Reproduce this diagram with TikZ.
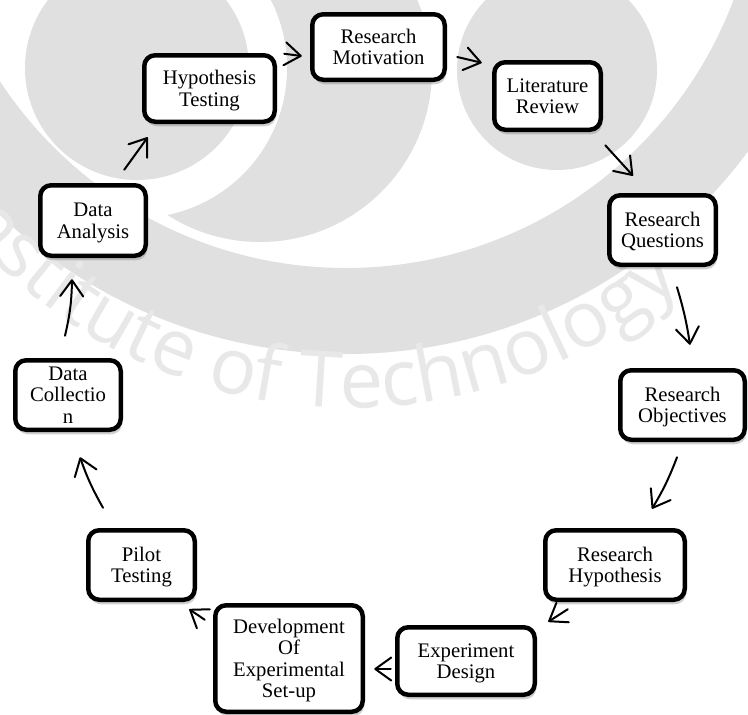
\documentclass[tikz,border=0pt]{standalone}
\usepackage{fontspec}
\setmainfont{Liberation Serif}
\newfontfamily\wmfamily{Open Sans}
\newcommand\wmfont{\wmfamily\fontsize{78}{78}\selectfont}
\usetikzlibrary{arrows.meta,shadows,decorations.text}
\colorlet{wm}{black!12}
\colorlet{wmtext}{black!9}

\begin{document}
\begin{tikzpicture}[x=1pt,y=-1pt,
  stage/.style={draw=black, line width=4.5pt, rounded corners=11pt, fill=white,
    align=center, inner sep=0pt, text depth=0pt,
    font=\fontsize{20.7}{21.5}\selectfont,
    drop shadow={shadow xshift=1.5pt, shadow yshift=-4.5pt, fill=black!60, opacity=0.3}},
  flow/.style={line width=2pt, line cap=round, line join=round,
    -{Straight Barb[length=16pt,width=23pt,round]}}
]
\useasboundingbox (0,0) rectangle (748,715);
\fill[white] (0,0) rectangle (748,715);

% faint logo in the background
\begin{scope}
  \clip (0,0) rectangle (748,715);
  \fill[wm] (260,70) circle[radius=172];
  \fill[white] (137,68) circle[radius=150];
  \fill[wm] (137,68) circle[radius=112];
  \fill[wm, even odd rule] (346,-146) circle[radius=500] (346,-146) circle[radius=414];
  \fill[wm] (557,70) circle[radius=100];
  \path[decorate, decoration={text along path, text color=wmtext, text align=center,
      text={|\wmfont|Institute of Technology}}]
    (350,-95) ++(146:503) arc[start angle=146, end angle=46, radius=503];
\end{scope}

% stages of the research cycle
\node[stage, minimum width=130.5pt, minimum height=66.5pt] (hyp) at (209.5,88.5) {Hypothesis\\Testing};
\node[stage, minimum width=132.5pt, minimum height=65.5pt] (mot) at (378.5,47) {Research\\Motivation};
\node[stage, minimum width=106.5pt, minimum height=67.5pt] (lit) at (547.5,96) {Literature\\Review};
\node[stage, minimum width=106.5pt, minimum height=69.5pt] (que) at (662.5,230) {Research\\Questions};
\node[stage, minimum width=124.5pt, minimum height=69.5pt] (obj) at (682.5,405) {Research\\Objectives};
\node[stage, minimum width=139.5pt, minimum height=69.5pt] (rhy) at (615,565) {Research\\Hypothesis};
\node[stage, minimum width=137.5pt, minimum height=67.5pt] (exd) at (466,661) {Experiment\\Design};
\node[stage, minimum width=147.5pt, minimum height=106.5pt] (dev) at (289,658.5) {Development\\Of\\Experimental\\Set-up};
\node[stage, minimum width=106.5pt, minimum height=69.5pt] (pil) at (141.5,565) {Pilot\\Testing};
\node[stage, minimum width=105.5pt, minimum height=69.5pt] (col) at (68,395) {Data\\Collectio\\n};
\node[stage, minimum width=105.5pt, minimum height=70.5pt] (ana) at (93,220.5) {Data\\Analysis};

% arrows between the stages
\draw[flow] ([shift={(-23.75,-13.25)}]ana.north east) -- ([shift={(5.75,13.25)}]hyp.south west);
\draw[flow] ([shift={(7.25,0.75)}]hyp.north east) -- ([shift={(-8.25,9)}]mot.west);
\draw[flow] ([shift={(10.25,10)}]mot.east) -- ([shift={(-10.25,2.75)}]lit.north west);
\draw[flow] ([shift={(2.25,13.25)}]lit.south east) -- ([shift={(-29.5,-17.25)}]que.north);
\draw[flow] ([shift={(14.5,20.25)}]que.south) to[bend left=4] ([shift={(7.5,-23.25)}]obj.north);
\draw[flow] ([shift={(-5.5,15.25)}]obj.south) to[bend left=5] ([shift={(37,-19.25)}]rhy.north);
\draw[flow] ([shift={(24.75,7.25)}]rhy.south west) -- ([shift={(11.25,-3.25)}]exd.north east);
\draw[flow] ([shift={(-4.25,8)}]exd.west) -- ([shift={(9.25,10.5)}]dev.east);
\draw[flow] ([shift={(-8.25,16.75)}]dev.north west) -- ([shift={(-7.75,7.25)}]pil.south east);
\draw[flow] ([shift={(-38.5,-20.25)}]pil.north) to[bend left=5] ([shift={(12,25.25)}]col.south);
\draw[flow] ([shift={(-3,-22.25)}]col.north) to[bend right=6] ([shift={(-21,21.25)}]ana.south);
\end{tikzpicture}
\end{document}
